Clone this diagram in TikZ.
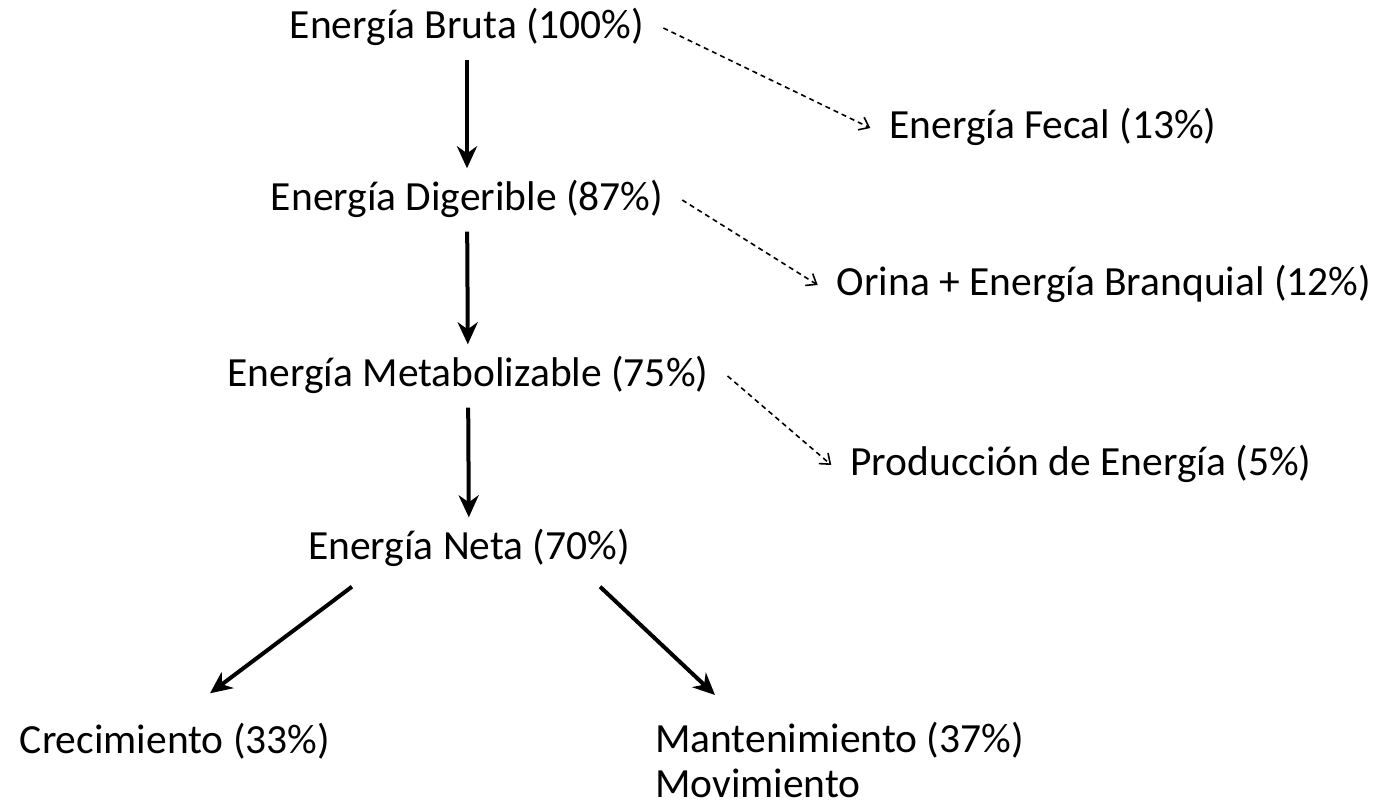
\documentclass[tikz,border=0pt]{standalone}
\usepackage{fontspec}
\setmainfont{Carlito}
\usepackage{tikz}
\usetikzlibrary{arrows.meta}
\usepackage{xcolor}

\begin{document}
\begin{tikzpicture}[x=1pt, y=-1pt,
    lvl/.style={font=\fontsize{41.5}{45}\selectfont, inner xsep=19pt, inner ysep=12pt, text height=30pt, text depth=9pt},
    flow/.style={line width=4pt, -{Stealth[length=22pt, width=20pt, inset=7pt]}},
    loss/.style={line width=1.6pt, dash pattern=on 5pt off 4pt, -{Straight Barb[length=9pt, width=14pt]}}]
    \useasboundingbox (0,0) rectangle (1376,803);
    % main chain
    \node (bruta) at (467,28) [lvl] {Energía Bruta (100\%)};
    \node (dig) at (467,200) [lvl] {Energía Digerible (87\%)};
    \node (metab) at (468,376) [lvl] {Energía Metabolizable (75\%)};
    \node (neta) at (469,549) [lvl] {Energía Neta (70\%)};
    % losses
    \node (fecal) at (1053,128) [lvl] {Energía Fecal (13\%)};
    \node (orina) at (1104,285) [lvl] {Orina + Energía Branquial (12\%)};
    \node (prod) at (1081,465) [lvl] {Producción de Energía (5\%)};
    % end uses
    \node (crec) at (175,743) [lvl] {Crecimiento (33\%)};
    \node (mant) at (636,760) [lvl, anchor=west, align=left, text height=, text depth=] {Mantenimiento (37\%)\\Movimiento};
    \draw[flow] (bruta) -- (dig);
    \draw[flow] (dig) -- (metab);
    \draw[flow] (metab) -- (neta);
    \draw[loss] (bruta.east) -- (fecal.west);
    \draw[loss] (dig.east) -- (orina.west);
    \draw[loss] (metab.east) -- (prod.west);
    \draw[flow] ([xshift=63pt, yshift=-6pt]neta.south west) -- ([xshift=35pt, yshift=18pt]crec.north);
    \draw[flow] ([xshift=-49pt, yshift=-6pt]neta.south east) -- ([xshift=79pt, yshift=15pt]mant.north west);
\end{tikzpicture}
\end{document}
